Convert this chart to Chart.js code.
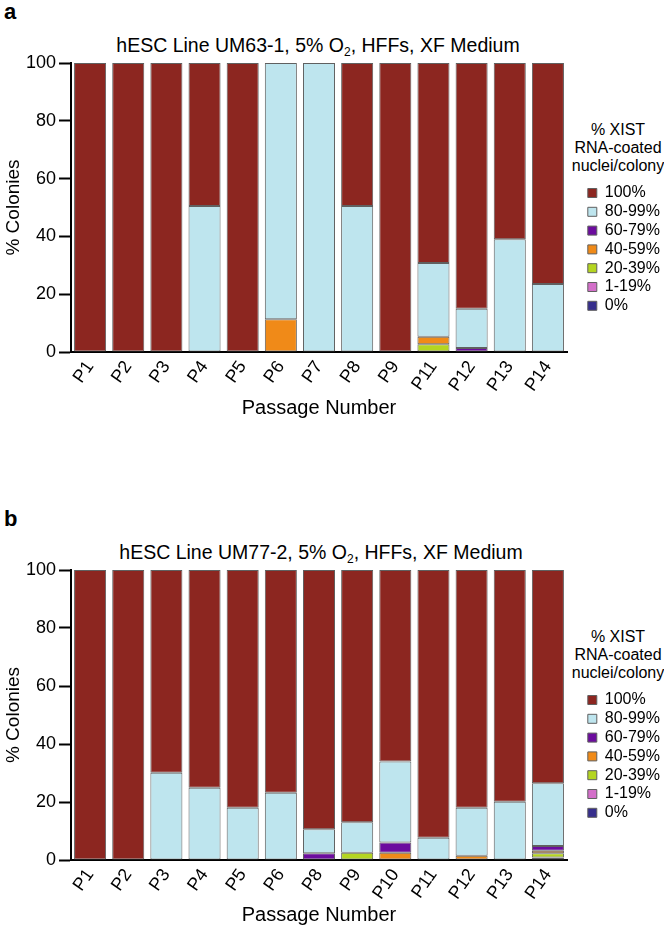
<!DOCTYPE html>
<html>
<head>
<meta charset="utf-8">
<script src="https://cdn.jsdelivr.net/npm/chart.js@4.4.1/dist/chart.umd.min.js"></script>
<style>
  body { margin: 0; background: #fff; font-family: "Liberation Sans", Arial, sans-serif; }
  #fig { position: relative; width: 664px; height: 927px; overflow: hidden; }
  canvas { position: absolute; left: 0; }
  .tag { position: absolute; left: 4px; font-weight: bold; font-size: 22px; line-height: 22px; }
  .ttl { position: absolute; font-size: 19.5px; line-height: 22px; white-space: nowrap; transform: translateX(-50%); }
  .ttl sub { font-size: 12px; vertical-align: -4px; line-height: 0; }
  .lgt { position: absolute; left: 568px; width: 100px; text-align: center; font-size: 16px; line-height: 18px; }
</style>
</head>
<body>
<div id="fig">
  <div class="tag" style="top:1px">a</div>
  <div class="ttl" style="left:318px; top:34px">hESC Line UM63-1, 5% O<sub>2</sub>, HFFs, XF Medium</div>
  <div class="lgt" style="top:121px">% XIST<br>RNA-coated<br>nuclei/colony</div>
  <canvas id="chartA" width="664" height="463" style="top:0"></canvas>

  <div class="tag" style="top:508px">b</div>
  <div class="ttl" style="left:321px; top:541px">hESC Line UM77-2, 5% O<sub>2</sub>, HFFs, XF Medium</div>
  <div class="lgt" style="top:628px">% XIST<br>RNA-coated<br>nuclei/colony</div>
  <canvas id="chartB" width="664" height="420" style="top:507px"></canvas>
</div>

<script>
// legend classes, bottom of the stack first
const classes = ['0%', '1-19%', '20-39%', '40-59%', '60-79%', '80-99%', '100%'];
const colors = ['#362e8c', '#d36fc9', '#b4d520', '#f08a18', '#6c0c9e', '#bee5ee', '#8c2620'];

// panel a: UM63-1 (no P10)
const passagesA = ['P1', 'P2', 'P3', 'P4', 'P5', 'P6', 'P7', 'P8', 'P9', 'P11', 'P12', 'P13', 'P14'];
const a0   = [0, 0, 0, 0, 0, 0, 0, 0, 0, 0, 0, 0, 0];
const a1   = [0, 0, 0, 0, 0, 0, 0, 0, 0, 0, 0, 0, 0];
const a20  = [0, 0, 0, 0, 0, 0, 0, 0, 0, 2.7, 0, 0, 0];
const a40  = [0, 0, 0, 0, 0, 11.3, 0, 0, 0, 2.6, 0, 0, 0];
const a60  = [0, 0, 0, 0, 0, 0, 0, 0, 0, 0, 1.4, 0, 0];
const a80  = [0, 0, 0, 50.5, 0, 88.7, 100, 50.5, 0, 25.5, 13.6, 39, 23.5];
const a100 = [100, 100, 100, 49.5, 100, 0, 0, 49.5, 100, 69.2, 85, 61, 76.5];

// panel b: UM77-2 (no P7)
const passagesB = ['P1', 'P2', 'P3', 'P4', 'P5', 'P6', 'P8', 'P9', 'P10', 'P11', 'P12', 'P13', 'P14'];
const b0   = [0, 0, 0, 0, 0, 0, 0, 0, 0, 0, 0, 0, 0];
const b1   = [0, 0, 0, 0, 0, 0, 0, 0, 0, 0, 0, 0, 0.9];
const b20  = [0, 0, 0, 0, 0, 0, 0, 2.5, 0, 0, 0, 0, 1.4];
const b40  = [0, 0, 0, 0, 0, 0, 0, 0, 2.5, 0, 1.5, 0, 0.9];
const b60  = [0, 0, 0, 0, 0, 0, 2.3, 0, 3.5, 0, 0, 0, 1.6];
const b80  = [0, 0, 30.1, 24.9, 18, 23.2, 8.3, 10.5, 28, 7.7, 16.5, 20.1, 21.7];
const b100 = [100, 100, 69.9, 75.1, 82, 76.8, 89.4, 87, 66, 92.3, 82, 79.9, 73.5];

const yTicks = [0, 20, 40, 60, 80, 100];

Chart.defaults.font.family = '"Liberation Sans", Arial, sans-serif';
Chart.defaults.color = '#000';

function makeChart(id, labels, series, xh, xtp) {
  const datasets = series.map((vals, i) => ({
    label: classes[i],
    data: vals.map(v => v === 0 ? null : v),
    backgroundColor: colors[i],
    borderColor: '#606060',
    borderWidth: 1,
    borderSkipped: false,
    barPercentage: 0.84,
    categoryPercentage: 1
  }));

  return new Chart(document.getElementById(id), {
    type: 'bar',
    data: { labels: labels, datasets: datasets },
    options: {
      responsive: false,
      animation: false,
      layout: { padding: { top: 63, right: 0, left: 0, bottom: 0 } },
      plugins: {
        tooltip: { enabled: false },
        legend: {
          position: 'right',
          align: 'start',
          reverse: true,
          maxWidth: 79,
          // empty title only reserves the room taken by the html legend heading
          title: { display: true, text: '', font: { size: 12, lineHeight: 1 }, padding: { top: 107.2, bottom: 0 } },
          labels: { boxWidth: 9, boxHeight: 9, color: '#000', font: { size: 16 }, padding: 2.8 }
        }
      },
      scales: {
        x: {
          stacked: true,
          grid: { drawOnChartArea: false, drawTicks: false },
          border: { color: '#000', width: 2 },
          ticks: { font: { size: 18 }, color: '#000', minRotation: 55, maxRotation: 55, padding: 5 },
          title: { display: true, text: 'Passage Number', font: { size: 20 }, padding: { top: 0, bottom: xtp } },
          afterFit: s => { s.height = xh; }
        },
        y: {
          stacked: true,
          min: 0,
          max: 100,
          afterBuildTicks: s => { s.ticks = yTicks.map(v => ({ value: v })); },
          ticks: { font: { size: 18 }, color: '#000', padding: 3 },
          grid: { drawOnChartArea: false, tickLength: 12, tickWidth: 2, tickColor: '#000' },
          border: { color: '#000', width: 2 },
          title: { display: true, text: '% Colonies', font: { size: 19 }, padding: { top: 2, bottom: 0 } },
          afterFit: s => { s.width = 71; }
        },
        gap: {
          position: 'right',
          grid: { display: false },
          ticks: { display: false },
          border: { display: false },
          afterFit: s => { s.width = 18; }
        }
      }
    }
  });
}

makeChart('chartA', passagesA, [a0, a1, a20, a40, a60, a80, a100], 111, 43);
makeChart('chartB', passagesB, [b0, b1, b20, b40, b60, b80, b100], 67, 0);
</script>
</body>
</html>
